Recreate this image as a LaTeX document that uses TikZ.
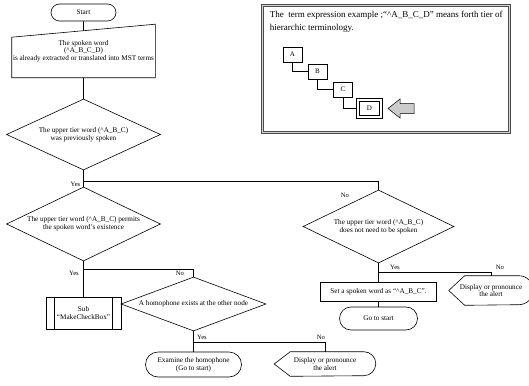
\documentclass[tikz,border=0pt]{standalone}
\usepackage{fontspec}
\setmainfont{Liberation Serif}
\usetikzlibrary{shapes.geometric,shapes.misc,calc}
\newcommand{\caret}{\textasciicircum}
\tikzset{
  flow/.style={font=\fontsize{7.2}{7.6}\selectfont, align=center, inner sep=0pt},
  term/.style={flow, rounded rectangle, draw},
  proc/.style={flow, rectangle, draw},
  decision/.style={flow, diamond, draw},
  lbl/.style={font=\fontsize{6.6}{7}\selectfont, inner sep=0pt},
  tier/.style={draw, font=\fontsize{7}{8}\selectfont, minimum width=19pt, minimum height=15pt, inner sep=0pt},
}
\begin{document}
\begin{tikzpicture}[x=1pt,y=-1pt,line width=0.6pt]
  \useasboundingbox (0,0) rectangle (529,385);
  % left column
  \node[term, minimum width=65pt, minimum height=17pt] (start) at (83.5,12.5) {Start};
  \node[flow, minimum width=143pt, minimum height=53pt] (input) at (83.5,51)
    {The spoken word\\(\caret A\_B\_C\_D)\\is already extracted or translated into MST terms};
  \draw (input.north east) -- (input.south east) -- (input.south west) -- ([yshift=-13pt]input.north west) -- cycle;
  \coordinate (intop) at ($(input.north east)!0.5!([yshift=-13pt]input.north west)$);
  \node[decision, minimum width=154pt, minimum height=71pt, aspect=2.2] (dec1) at (83.5,134.5)
    {The upper tier word (\caret A\_B\_C)\\was previously spoken};
  \node[decision, minimum width=154pt, minimum height=74pt, aspect=2.1] (dec2) at (83.5,224)
    {The upper tier word (\caret A\_B\_C) permits\\the spoken word’s existence};
  \node[proc, minimum width=75pt, minimum height=32pt] (sub) at (83.5,313) {Sub\\“MakeCheckBox”};
  \draw ([xshift=9pt]sub.north west) -- ([xshift=9pt]sub.south west)
        ([xshift=-9pt]sub.north east) -- ([xshift=-9pt]sub.south east);
  \node[decision, minimum width=145pt, minimum height=54pt, aspect=2.7] (dec4) at (193.5,304)
    {A homophone exists at the other node};
  \node[term, minimum width=96pt, minimum height=25pt] (exam) at (193.5,364.5) {Examine the homophone\\(Go to start)};
  \node[flow, minimum width=101pt, minimum height=24pt] (disp1) at (325,364) {Display or pronounce\\the alert};
  % right column
  \node[decision, minimum width=151pt, minimum height=73pt, aspect=2.1] (dec3) at (378.5,226.5)
    {The upper tier word (\caret A\_B\_C)\\does not need to be spoken};
  \node[proc, minimum width=116pt, minimum height=19pt] (setw) at (378.5,291.5) {Set a spoken word as “\caret A\_B\_C”.};
  \node[term, minimum width=78pt, minimum height=23pt] (goto) at (378.5,318.5) {Go to start};
  \node[flow, minimum width=84pt, minimum height=29pt] (disp2) at (491,290.5) {Display or pronounce\\the alert};
  \foreach \n/\r in {disp1/12, disp2/14.5}
    \draw (\n.west) -- ([xshift=16pt]\n.north west) -- ([xshift=-\r pt]\n.north east)
      arc[start angle=90, end angle=-90, x radius=\r pt, y radius=\r pt] -- ([xshift=16pt]\n.south west) -- cycle;
  % connectors
  \coordinate (j1) at (83.5,181);
  \coordinate (j2) at (83.5,269);
  \coordinate (j3) at (193.5,342);
  \coordinate (j4) at (378.5,272);
  \draw (start) -- (intop);
  \draw (input.south) -- (dec1.north);
  \draw (dec1.south) -- (dec2.north);
  \draw (j1) -| (dec3.north);
  \draw (dec2.south) -- (sub.north);
  \draw (j2) -| (dec4.north);
  \draw (dec4.south) -- (exam.north);
  \draw (j3) -| (disp1.north);
  \draw (dec3.south) -- (setw.north);
  \draw (j4) -| (disp2.north);
  \draw (setw.south) -- (goto.north);
  % branch labels
  \node[lbl] (yes1) at (75.5,184) {Yes};
  \node[lbl] (no1) at (345,195) {No};
  \node[lbl] (yes2) at (74,273) {Yes};
  \node[lbl] (no2) at (180,273) {No};
  \node[lbl] (yes3) at (202,337) {Yes};
  \node[lbl] (no3) at (321,337) {No};
  \node[lbl] (yes4) at (395,267) {Yes};
  \node[lbl] (no4) at (500,267) {No};
  % legend
  \node[draw=gray!60!black, double=gray!35, double distance=1.2pt, line width=0.5pt,
        minimum width=247pt, minimum height=127pt, inner sep=0pt] (legend) at (386,69) {};
  \node[anchor=north west, font=\fontsize{9}{13}\selectfont, align=left, inner sep=0pt] (legtext) at (269.5,10.5)
    {The\ \ term expression example ;“\caret A\_B\_C\_D” means forth tier of\\hierarchic terminology.};
  \node[tier] (A) at (292.5,54.5) {A};
  \node[tier] (B) at (317.5,71.5) {B};
  \node[tier] (C) at (343,89.5) {C};
  \node[tier, minimum width=20pt, minimum height=14pt] (D) at (369.5,108) {D};
  \draw[line width=0.5pt] ([shift={(-2.5pt,2.5pt)}]D.north west) rectangle ([shift={(2.5pt,-2.5pt)}]D.south east);
  \draw (A.south) |- (B.west);
  \draw (B.south) |- (C.west);
  \draw (C.south) |- ([xshift=-2.5pt]D.west);
  \draw[fill=gray!40, line width=0.5pt] (388,108.5) -- (400,99) -- (400,103.5) -- (414,103.5)
    -- (414,113.5) -- (400,113.5) -- (400,118) -- cycle;
\end{tikzpicture}
\end{document}
